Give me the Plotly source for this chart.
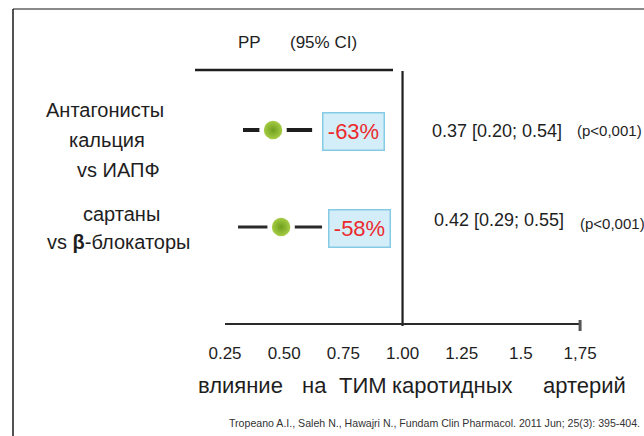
import plotly.graph_objects as go

# ---- data ----
rows = [0, 1]
left_labels = [["Антагонисты", "кальция", "vs ИАПФ"], ["сартаны", "vs <b>β</b>-блокаторы"]]
point_drawn = [0.453, 0.487]      # drawn point positions
ci_low_drawn = [0.326, 0.305]
ci_high_drawn = [0.618, 0.660]
reduction = ["-63%", "-58%"]
stat_text = ["0.37 [0.20; 0.54]", "0.42 [0.29; 0.55]"]
p_text = ["(p<0,001)", "(p<0,001)"]
tick_vals = [0.25, 0.50, 0.75, 1.00, 1.25, 1.5, 1.75]
tick_text = ["0.25", "0.50", "0.75", "1.00", "1.25", "1.5", "1,75"]
ref_value = 1.0
axis_title_words = ["влияние", "на", "ТИМ", "каротидных", "артерий"]
header = ["PP", "(95% CI)"]
citation = "Tropeano A.I., Saleh N., Hawajri N., Fundam Clin Pharmacol. 2011 Jun; 25(3): 395-404."

W, H = 644, 436
MB = 100
PH = H - MB
FONT = "Liberation Sans, Arial, sans-serif"
DARK = "#1e1e1e"

def px(x):  # pixel x -> paper
    return x / W

def py(y):  # pixel y -> paper
    return 1 - y / PH

def yi(y):  # pixel y -> row-index units
    return (y - 130) / 97.0

fig = go.Figure()

# CI segments
widths = [4, 3]
for r in rows:
    fig.add_trace(go.Scatter(
        x=[ci_low_drawn[r], ci_high_drawn[r]], y=[r, r], mode="lines",
        line=dict(color=DARK if r == 0 else "#2a2a2a", width=widths[r]),
        hoverinfo="skip", showlegend=False))

# points
fig.add_trace(go.Scatter(
    x=point_drawn, y=rows, mode="markers",
    marker=dict(size=23, color="#b4d84e",
                gradient=dict(type="radial", color="#6e9e1e"),
                line=dict(color="white", width=4.5)),
    hoverinfo="skip", showlegend=False))

# reference vertical line
fig.add_trace(go.Scatter(
    x=[ref_value, ref_value], y=[yi(71), yi(326)], mode="lines",
    line=dict(color=DARK, width=2.2), hoverinfo="skip", showlegend=False))

# x-axis baseline
fig.add_trace(go.Scatter(
    x=[tick_vals[0], tick_vals[-1]], y=[yi(324), yi(324)], mode="lines",
    line=dict(color="#2a2a2a", width=2.2), hoverinfo="skip", showlegend=False))
# end tick
fig.add_trace(go.Scatter(
    x=[tick_vals[-1], tick_vals[-1]], y=[yi(320), yi(331)], mode="lines",
    line=dict(color="#555", width=3), hoverinfo="skip", showlegend=False))

# header underline
fig.add_trace(go.Scatter(
    x=[-0.7006 + 195 / 236.7, -0.7006 + 393 / 236.7], y=[yi(70), yi(70)], mode="lines",
    line=dict(color=DARK, width=2.5), hoverinfo="skip", showlegend=False))

ann = []
# header
ann.append(dict(x=px(236), y=py(42), xref="paper", yref="paper", text=header[0],
                xanchor="left", yanchor="middle", showarrow=False,
                font=dict(family=FONT, size=17, color=DARK)))
ann.append(dict(x=px(288), y=py(42), xref="paper", yref="paper", text=header[1],
                xanchor="left", yanchor="middle", showarrow=False,
                font=dict(family=FONT, size=17, color=DARK)))

# left labels
label_pos = [[(105, 110), (107, 140), (118, 170)], [(121, 214), (119, 242)]]
for r in rows:
    for line, (cx, cy) in zip(left_labels[r], label_pos[r]):
        ann.append(dict(x=px(cx), y=py(cy), xref="paper", yref="paper", text=line,
                        xanchor="center", yanchor="middle", showarrow=False,
                        font=dict(family=FONT, size=20, color=DARK)))

# reduction boxes
box_shift = [10, 6]
for r in rows:
    ann.append(dict(x=ci_high_drawn[r], y=r, xref="x", yref="y", text=reduction[r],
                    xanchor="left", yanchor="middle", xshift=box_shift[r], yshift=-1,
                    showarrow=False, width=58, height=34, align="center",
                    bgcolor="#d3eef9", bordercolor="#86cbe4", borderwidth=1.5, borderpad=1,
                    font=dict(family=FONT, size=22, color="#ec2a2e")))

# stats text
stat_pos = [(430, 131), (432, 220)]
p_pos = [(575, 130), (578, 223)]
for r in rows:
    ann.append(dict(x=px(stat_pos[r][0]), y=py(stat_pos[r][1]), xref="paper", yref="paper",
                    text=stat_text[r], xanchor="left", yanchor="middle", showarrow=False,
                    font=dict(family=FONT, size=18, color=DARK)))
    ann.append(dict(x=px(p_pos[r][0]), y=py(p_pos[r][1]), xref="paper", yref="paper",
                    text=p_text[r], xanchor="left", yanchor="middle", showarrow=False,
                    font=dict(family=FONT, size=15, color=DARK)))

# axis title (word by word, as spaced in the original)
word_x = [196, 300, 337, 390, 541]
for w, wx in zip(axis_title_words, word_x):
    ann.append(dict(x=px(wx), y=py(385), xref="paper", yref="paper", text=w,
                    xanchor="left", yanchor="middle", showarrow=False,
                    font=dict(family=FONT, size=22, color=DARK)))
# citation
ann.append(dict(x=px(642), y=py(423), xref="paper", yref="paper", text=citation,
                xanchor="right", yanchor="middle", showarrow=False,
                font=dict(family=FONT, size=10.6, color="#333")))

shapes = [
    dict(type="line", xref="paper", yref="paper", x0=px(13), x1=1.01, y0=py(9), y1=py(9),
         line=dict(color="#8a8a8a", width=2)),
    dict(type="line", xref="paper", yref="paper", x0=px(13), x1=px(13), y0=py(9), y1=py(440),
         line=dict(color="#1a1a1a", width=1.5)),
]

fig.update_layout(
    width=W, height=H,
    margin=dict(l=0, r=0, t=0, b=MB, pad=0),
    paper_bgcolor="white", plot_bgcolor="white",
    showlegend=False,
    annotations=ann, shapes=shapes,
    xaxis=dict(range=[-0.7006, 2.0201], tickvals=tick_vals, ticktext=tick_text,
               showgrid=False, zeroline=False, showline=False, ticks="",
               ticklabelstandoff=5,
               tickfont=dict(family=FONT, size=17, color=DARK), fixedrange=True),
    yaxis=dict(range=[yi(PH), yi(0)], visible=False, fixedrange=True),
)

fig.write_html("out.html", config={"displayModeBar": False},
               post_script="document.body.style.margin='0';")
